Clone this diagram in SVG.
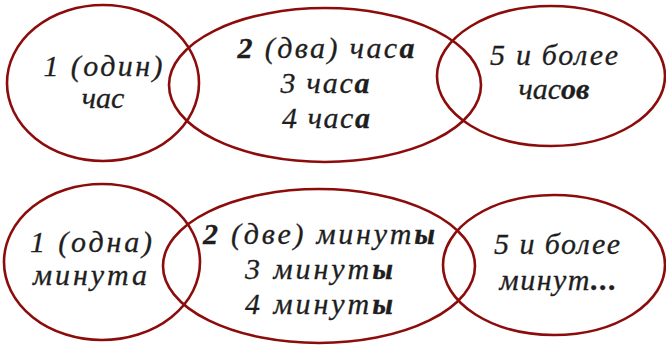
<svg xmlns="http://www.w3.org/2000/svg" width="666" height="345" viewBox="0 0 666 345">
<style>
.e{fill:none;stroke:#8c0c0c;stroke-width:2.6}
.t{font-family:"Liberation Serif",serif;font-style:italic;font-size:30px;fill:#1e1e1e;stroke:#1e1e1e;stroke-width:0.3;text-anchor:middle}
.b{font-weight:bold}
</style>
<rect width="666" height="345" fill="#fff"/>
<g id="n1"><ellipse class="e" cx="103" cy="83" rx="96" ry="78"/>
<text class="t" x="103" y="76" textLength="119" lengthAdjust="spacing">1 (один)</text>
<text class="t" x="103" y="108">час</text></g>
<g id="n2"><ellipse class="e" cx="325" cy="85" rx="156" ry="77"/>
<text class="t" x="326" y="58" textLength="177" lengthAdjust="spacing"><tspan class="b">2</tspan> (два) час<tspan class="b">а</tspan></text>
<text class="t" x="325" y="93" textLength="89" lengthAdjust="spacing">3 час<tspan class="b">а</tspan></text>
<text class="t" x="326" y="128" textLength="88" lengthAdjust="spacing">4 час<tspan class="b">а</tspan></text></g>
<g id="n3"><ellipse class="e" cx="551" cy="76" rx="114" ry="70"/>
<text class="t" x="554" y="65" textLength="128" lengthAdjust="spacing">5 и более</text>
<text class="t" x="554" y="99">час<tspan class="b">ов</tspan></text></g>
<g id="n4"><ellipse class="e" cx="102" cy="262" rx="98" ry="78"/>
<text class="t" x="91" y="252" textLength="122" lengthAdjust="spacing">1 (одна)</text>
<text class="t" x="90" y="285" textLength="114" lengthAdjust="spacing">минута</text></g>
<g id="n5"><ellipse class="e" cx="319" cy="266" rx="156" ry="77"/>
<text class="t" x="319" y="244" textLength="232" lengthAdjust="spacing"><tspan class="b">2</tspan> (две) минут<tspan class="b">ы</tspan></text>
<text class="t" x="319" y="279" textLength="148" lengthAdjust="spacing">3 минут<tspan class="b">ы</tspan></text>
<text class="t" x="319" y="314" textLength="148" lengthAdjust="spacing">4 минут<tspan class="b">ы</tspan></text></g>
<g id="n6"><ellipse class="e" cx="554" cy="265" rx="111" ry="70"/>
<text class="t" x="557" y="254" textLength="126" lengthAdjust="spacing">5 и более</text>
<text class="t" x="558" y="290" textLength="117" lengthAdjust="spacing">минут<tspan class="b">...</tspan></text></g>
<g id="connectors"></g>
</svg>
